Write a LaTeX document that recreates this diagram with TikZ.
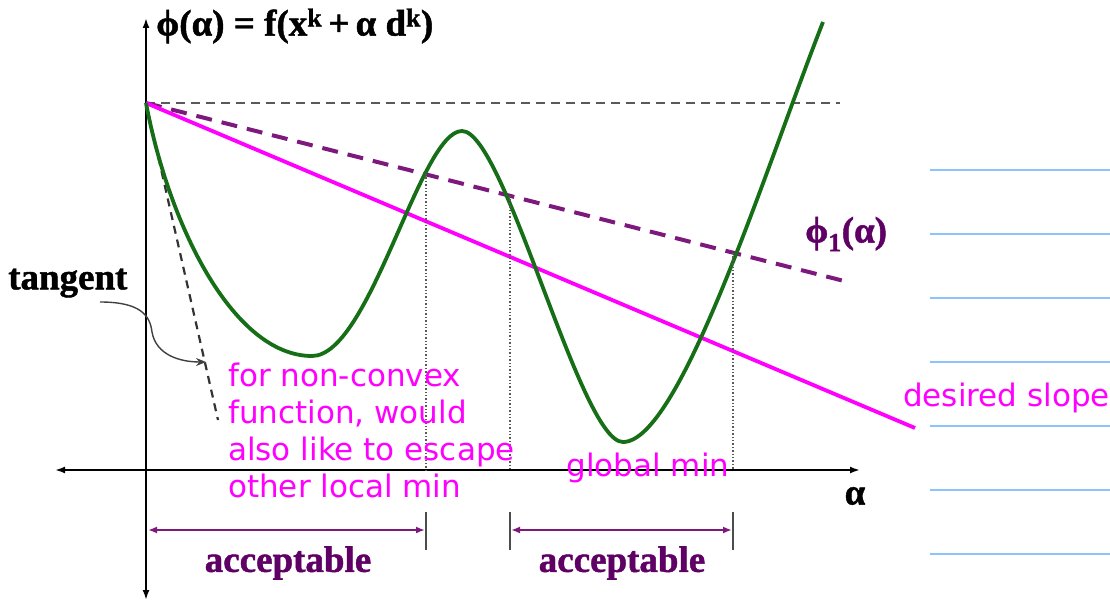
\documentclass[tikz,border=0pt]{standalone}
\usepackage{fontspec}
\setmainfont{Liberation Serif}
\newfontfamily\heavyserif{Liberation Serif Bold}[FakeBold=1.2]
\newfontfamily\dejavu{DejaVu Sans}
\usetikzlibrary{arrows.meta}

\definecolor{curvegreen}{RGB}{22,110,22}
\definecolor{magline}{RGB}{255,0,255}
\definecolor{purpdash}{RGB}{125,25,125}
\definecolor{purptext}{RGB}{95,0,100}
\definecolor{ruleblue}{RGB}{140,195,250}

\begin{document}
\begin{tikzpicture}[
    x=1pt, y=-1pt,
    >={Latex[length=10pt,width=7pt]},
    axis/.style={<->,black,line width=2.2pt},
    refline/.style={gray!70!black,line width=2.4pt,dash pattern=on 9pt off 6pt},
    slope/.style={magline,line width=3.8pt},
    armijo/.style={purpdash,line width=4pt,dash pattern=on 16pt off 10pt},
    tangentline/.style={black!80,line width=2.2pt,dash pattern=on 8pt off 6pt},
    drop/.style={black!65,line width=1.4pt,dotted},
    bar/.style={black!70,line width=1.8pt},
    accarrow/.style={<->,purpdash,line width=2.4pt,>={Latex[length=9pt,width=7pt]}},
    bold/.style={font=\heavyserif\fontsize{37}{40}\selectfont,inner sep=0pt},
    note/.style={magline,font=\dejavu\fontsize{31}{37}\selectfont,inner sep=0pt},
    blueline/.style={ruleblue,line width=2pt},
  ]
  \useasboundingbox (0,0) rectangle (1110,601);

  % --- axes ---
  \coordinate (o)   at (146,103);
  \coordinate (ytop) at (146,18);
  \coordinate (ybot) at (146,600);
  \coordinate (xl)  at (55,470);
  \coordinate (xr)  at (860,470);
  \draw[axis] (ybot) -- (ytop);
  \draw[axis] (xl) -- (xr);
  \node[bold,anchor=west] (phi) at (156,26) {ϕ(α) = f(x\textsuperscript{k}\,+\,α d\textsuperscript{k})};
  \node[bold] (alpha) at (855,496) {α};

  % --- reference lines from phi(0) ---
  \coordinate (href) at (840,103);
  \coordinate (send) at (915,428);
  \coordinate (aend) at (848,282);
  \coordinate (tend) at (218,420);
  \draw[refline] (o) -- (href);
  \draw[armijo] (o) -- (aend);
  \draw[slope] (o) -- (send);
  \draw[tangentline] (o) -- (tend);

  % --- the function: local min, max, global min ---
  \coordinate (lmin) at (312,356);
  \coordinate (lmax) at (462,131);
  \coordinate (gmin) at (623,442);
  \coordinate (fend) at (823,22);
  \draw[curvegreen,line width=3.8pt]
    (o) .. controls (170,230) and (235,356) .. (lmin)
        .. controls (370,356) and (420,131) .. (lmax)
        .. controls (505,131) and (580,442) .. (gmin)
        .. controls (680,442) and (765,170) .. (fend);

  % --- acceptable intervals ---
  \coordinate (c1) at (426,174);
  \coordinate (c2) at (510,196);
  \coordinate (c3) at (733,253);
  \foreach \p/\xx in {c1/426,c2/510,c3/733} {
    \draw[drop] (\p) -- (\xx,470);
    \draw[bar] (\xx,512) -- (\xx,550);
  }
  \coordinate (a1l) at (148,530);
  \coordinate (a1r) at (425,530);
  \coordinate (a2l) at (511,530);
  \coordinate (a2r) at (732,530);
  \draw[accarrow] (a1l) -- (a1r);
  \draw[accarrow] (a2l) -- (a2r);
  \node[bold,text=purptext] (acc1) at (288,563) {acceptable};
  \node[bold,text=purptext] (acc2) at (622,563) {acceptable};

  % --- labels ---
  \node[bold,text=purptext,anchor=west] (phione) at (805,234) {ϕ\textsubscript{1}(α)};
  \node[bold,anchor=west] (tang) at (8,283) {tangent};
  \coordinate (tarrow) at (206,362);
  \draw[->,black!75,line width=1.4pt,>={Stealth[length=10pt,width=8pt]}]
    (100,302) .. controls (140,302) and (150,315) .. (152,332)
    .. controls (156,355) and (180,362) .. (tarrow);
  \node[note,anchor=north west,align=left] (nonconvex) at (228,363)
    {for non-convex\\function, would\\also like to escape\\other local min};
  \node[note] (globalmin) at (648,468) {global min};
  \node[note,anchor=west] (desired) at (903,398) {desired slope};

  % --- ruled lines at right ---
  \foreach \yy in {170,234,298,362,426,490,554}
    \draw[blueline] (930,\yy) -- (1110,\yy);
\end{tikzpicture}
\end{document}
